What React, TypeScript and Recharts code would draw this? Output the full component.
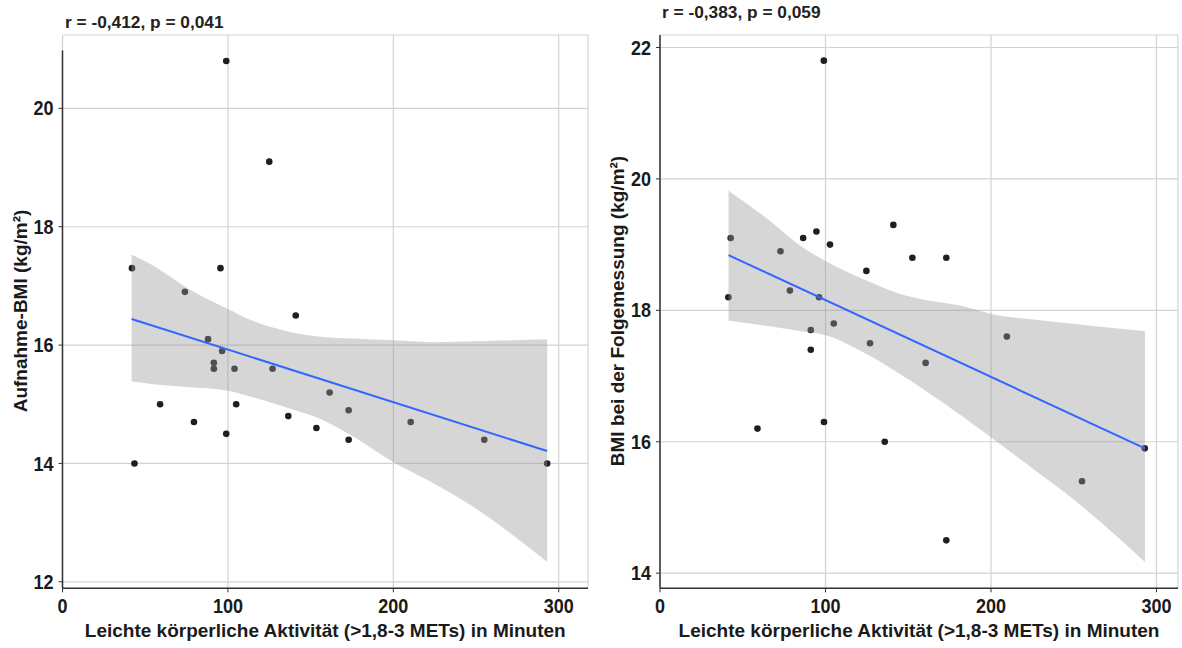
import React from "react";
import {
  ComposedChart,
  Scatter,
  Area,
  Line,
  XAxis,
  YAxis,
  CartesianGrid,
  ReferenceLine,
} from "recharts";

const FONT = '"Liberation Sans", Arial, sans-serif';
const TEXT = "#1a1a1a";

const X_TICKS = [0, 100, 200, 300];
const LEFT_Y_TICKS = [12, 14, 16, 18, 20];
const RIGHT_Y_TICKS = [14, 16, 18, 20, 22];

const X_LABEL = "Leichte körperliche Aktivität (>1,8-3 METs) in Minuten";
const LEFT_Y_LABEL = "Aufnahme-BMI (kg/m²)";
const RIGHT_Y_LABEL = "BMI bei der Folgemessung (kg/m²)";
const LEFT_TITLE = "r = -0,412, p = 0,041";
const RIGHT_TITLE = "r = -0,383, p = 0,059";

// Aufnahme-BMI points
const leftX = [99, 125, 42, 95.5, 74, 141, 88, 96.5, 91.5, 91.5, 104, 127, 161.5, 59, 105, 173, 79.5, 136.5, 210.5, 153.5, 99, 173, 255, 43.5, 293];
const leftY = [20.8, 19.1, 17.3, 17.3, 16.9, 16.5, 16.1, 15.9, 15.7, 15.6, 15.6, 15.6, 15.2, 15.0, 15.0, 14.9, 14.7, 14.8, 14.7, 14.6, 14.5, 14.4, 14.4, 14.0, 14.0];

// smoother ribbon + fit (left)
const leftBandX = [41.8, 55, 75, 100, 115, 135, 156, 176, 200, 222, 242, 293];
const leftBandLo = [15.39, 15.34, 15.29, 15.23, 15.12, 14.95, 14.75, 14.45, 14.02, 13.7, 13.38, 12.34];
const leftBandHi = [17.53, 17.34, 16.97, 16.61, 16.41, 16.24, 16.14, 16.11, 16.08, 16.05, 16.06, 16.1];
const leftFit = [16.44, 14.21]; // at first / last band x

// Folgemessung points
const rightX = [99, 141, 94.5, 86.5, 42.7, 102.7, 72.8, 152.5, 173, 124.7, 78.5, 41.3, 96.1, 105, 91.1, 126.9, 209.6, 91.1, 160.5, 58.9, 99.1, 135.8, 292.9, 255, 173];
const rightY = [21.8, 19.3, 19.2, 19.1, 19.1, 19.0, 18.9, 18.8, 18.8, 18.6, 18.3, 18.2, 18.2, 17.8, 17.7, 17.5, 17.6, 17.4, 17.2, 16.2, 16.3, 16.0, 15.9, 15.4, 14.5];

const rightBandX = [41.4, 65, 85, 100, 125, 145, 158, 182, 201, 230, 248, 293];
const rightBandLo = [17.84, 17.76, 17.68, 17.62, 17.33, 17.03, 16.82, 16.4, 16.05, 15.5, 15.16, 14.17];
const rightBandHi = [19.82, 19.39, 18.98, 18.75, 18.45, 18.25, 18.17, 18.07, 17.94, 17.85, 17.8, 17.68];
const rightFit = [18.84, 15.9];

function toPoints(xs: number[], ys: number[]) {
  return xs.map((x, i) => ({ x, y: ys[i] }));
}

function toBand(xs: number[], lo: number[], hi: number[], fit: number[]) {
  return xs.map((x, i) => ({
    x,
    band: [lo[i], hi[i]],
    fit: i === 0 ? fit[0] : i === xs.length - 1 ? fit[1] : undefined,
  }));
}

// tick text in the reference is slightly condensed
const XTick = (props: any) => (
  <text
    transform={`translate(${props.x},${props.y}) scale(0.9,1)`}
    textAnchor="middle"
    dy="0.71em"
    fill={TEXT}
    fontSize={20}
    fontWeight={700}
    fontFamily={FONT}
  >
    {props.payload.value}
  </text>
);

const YTick = (props: any) => (
  <text
    transform={`translate(${props.x},${props.y}) scale(0.9,1)`}
    textAnchor="end"
    dy="0.355em"
    fill={TEXT}
    fontSize={20}
    fontWeight={700}
    fontFamily={FONT}
  >
    {props.payload.value}
  </text>
);

const Dot = (props: any) => (
  <circle cx={props.cx} cy={props.cy} r={3.3} fill="#1f1f1f" />
);

interface PanelProps {
  left: number;
  width: number;
  yAxisWidth: number;
  marginRight: number;
  xMax: number;
  yDomain: [number, number];
  yTicks: number[];
  points: { x: number; y: number }[];
  band: any[];
  axisTop?: number;
}

// two stacked charts so the ribbon sits on top of the points like in ggplot
function Panel({ left, width, yAxisWidth, marginRight, xMax, yDomain, yTicks, points, band, axisTop }: PanelProps) {
  const margin = { top: 35, right: marginRight, left: 0, bottom: 0 };
  return (
    <>
      <div style={{ position: "absolute", left, top: 0 }}>
        <ComposedChart width={width} height={648} data={band} margin={margin}>
          <CartesianGrid stroke="#d2d2d2" strokeWidth={1.2} />
          <XAxis
            dataKey="x"
            type="number"
            domain={[0, xMax]}
            ticks={X_TICKS}
            allowDataOverflow
            height={59.7}
            tick={XTick}
            tickSize={4}
            tickMargin={6}
            axisLine={{ stroke: "#333", strokeWidth: 1.5 }}
            tickLine={{ stroke: "#333" }}
            label={{
              value: X_LABEL,
              position: "insideBottom",
              offset: 11,
              fill: TEXT,
              fontSize: 19,
              fontWeight: 700,
              fontFamily: FONT,
            }}
          />
          <YAxis
            type="number"
            domain={yDomain}
            ticks={yTicks}
            allowDataOverflow
            width={yAxisWidth}
            tick={YTick}
            tickSize={4}
            tickMargin={5}
            axisLine={axisTop === undefined ? { stroke: "#333", strokeWidth: 1.5 } : false}
            tickLine={{ stroke: "#333" }}
          />
          {axisTop !== undefined && (
            <ReferenceLine
              segment={[
                { x: 0, y: axisTop },
                { x: 0, y: yDomain[0] },
              ]}
              stroke="#333"
              strokeWidth={1.5}
            />
          )}
          <Scatter data={points} dataKey="y" shape={Dot} isAnimationActive={false} />
        </ComposedChart>
      </div>
      <div style={{ position: "absolute", left, top: 0 }}>
        <ComposedChart width={width} height={648} data={band} margin={margin}>
          <XAxis
            dataKey="x"
            type="number"
            domain={[0, xMax]}
            ticks={X_TICKS}
            allowDataOverflow
            height={59.7}
            tick={false}
            tickLine={false}
            axisLine={false}
          />
          <YAxis
            type="number"
            domain={yDomain}
            ticks={yTicks}
            allowDataOverflow
            width={yAxisWidth}
            tick={false}
            tickLine={false}
            axisLine={false}
          />
          <Area
            type="monotone"
            dataKey="band"
            stroke="none"
            fill="#999999"
            fillOpacity={0.4}
            isAnimationActive={false}
            activeDot={false}
          />
          <Line
            type="linear"
            dataKey="fit"
            stroke="#3366ff"
            strokeWidth={2}
            dot={false}
            activeDot={false}
            connectNulls
            isAnimationActive={false}
          />
        </ComposedChart>
      </div>
    </>
  );
}

function Title({ x, y, text }: { x: number; y: number; text: string }) {
  return (
    <div
      style={{
        position: "absolute",
        left: x,
        top: y - 10,
        height: 20,
        lineHeight: "20px",
        whiteSpace: "nowrap",
        fontFamily: FONT,
        fontWeight: 700,
        fontSize: 17.3,
        color: "#222",
      }}
    >
      {text}
    </div>
  );
}

function YLabel({ cx, cy, text }: { cx: number; cy: number; text: string }) {
  return (
    <div
      style={{
        position: "absolute",
        left: cx - 250,
        top: cy - 11,
        width: 500,
        height: 22,
        lineHeight: "22px",
        textAlign: "center",
        transform: "rotate(-90deg)",
        whiteSpace: "nowrap",
        fontFamily: FONT,
        fontWeight: 700,
        fontSize: 19,
        color: TEXT,
      }}
    >
      {text}
    </div>
  );
}

export default function App() {
  return (
    <div
      style={{
        position: "absolute",
        left: 0,
        top: 0,
        width: 1182,
        height: 648,
        background: "#fff",
        overflow: "hidden",
      }}
    >
      <Panel
        left={0}
        width={600}
        yAxisWidth={62.5}
        marginRight={12}
        xMax={317.7}
        yDomain={[11.89, 21.24]}
        yTicks={LEFT_Y_TICKS}
        points={toPoints(leftX, leftY)}
        band={toBand(leftBandX, leftBandLo, leftBandHi, leftFit)}
        axisTop={20.98}
      />
      <Panel
        left={596}
        width={586}
        yAxisWidth={64}
        marginRight={4}
        xMax={313}
        yDomain={[13.77, 22.19]}
        yTicks={RIGHT_Y_TICKS}
        points={toPoints(rightX, rightY)}
        band={toBand(rightBandX, rightBandLo, rightBandHi, rightFit)}
      />
      <Title x={65} y={22} text={LEFT_TITLE} />
      <Title x={662} y={12} text={RIGHT_TITLE} />
      <YLabel cx={21} cy={311} text={LEFT_Y_LABEL} />
      <YLabel cx={618} cy={311} text={RIGHT_Y_LABEL} />
    </div>
  );
}
